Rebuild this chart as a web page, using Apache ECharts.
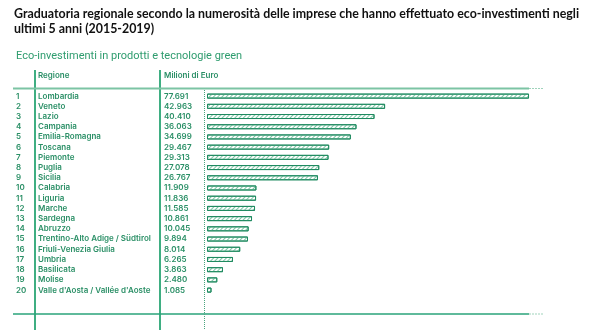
<!DOCTYPE html>
<html><head><meta charset="utf-8">
<script src="https://cdn.jsdelivr.net/npm/echarts@6/dist/echarts.min.js"></script>
<style>html,body{margin:0;padding:0;background:#fff}#c{width:600px;height:330px}</style>
</head><body><div id="c"></div>
<script>
const titleText = 'Graduatoria regionale secondo la numerosità delle imprese che hanno effettuato eco-investimenti negli\nultimi 5 anni (2015-2019)';
const subtitleText = 'Eco-investimenti in prodotti e tecnologie green';
const headerRegion = 'Regione';
const headerValue = 'Milioni di Euro';
const ranks = ['1','2','3','4','5','6','7','8','9','10','11','12','13','14','15','16','17','18','19','20'];
const regions = ['Lombardia','Veneto','Lazio','Campania','Emilia-Romagna','Toscana','Piemonte','Puglia','Sicilia','Calabria','Liguria','Marche','Sardegna','Abruzzo','Trentino-Alto Adige / Südtirol','Friuli-Venezia Giulia','Umbria','Basilicata','Molise',"Valle d'Aosta / Vallée d'Aoste"];
const values = [77.691,42.963,40.410,36.063,34.699,29.467,29.313,27.078,26.767,11.909,11.836,11.585,10.861,10.045,9.894,8.014,6.265,3.863,2.480,1.085];
const valueLabels = ['77.691','42.963','40.410','36.063','34.699','29.467','29.313','27.078','26.767','11.909','11.836','11.585','10.861','10.045','9.894','8.014','6.265','3.863','2.480','1.085'];

const G = '#2a8f66';
const LINE = '#3fae82';
const gridLeft = 207, gridTop = 91, gridH = 204.2;
const xMax = 80, pxPerUnit = 4.145;
const gridW = xMax * pxPerUnit;

function catAxis(data, margin) {
  return {
    type: 'category', data: data, inverse: true, position: 'left',
    axisLine: {show: false}, axisTick: {show: false}, splitLine: {show: false},
    axisLabel: {show: true, interval: 0, margin: margin, align: 'left', color: G, fontFamily: 'Inter', fontWeight: 600, fontSize: 8}
  };
}

const chart = echarts.init(document.getElementById('c'), null, {renderer: 'canvas'});
chart.setOption({
  animation: false,
  backgroundColor: '#fff',
  title: [
    {text: titleText, left: 9, top: 1, textStyle: {fontFamily: 'Lato', fontWeight: 'bold', fontSize: 12.4, color: '#111', lineHeight: 15}},
    {text: subtitleText, left: 11, top: 46, textStyle: {fontFamily: 'Roboto', fontWeight: 'normal', fontSize: 11, color: '#2e9c6e'}}
  ],
  grid: {left: gridLeft, top: gridTop, width: gridW, height: gridH, containLabel: false},
  xAxis: {type: 'value', min: 0, max: xMax, show: false},
  yAxis: [
    catAxis(ranks, gridLeft - 16),
    catAxis(regions, gridLeft - 38),
    catAxis(valueLabels, gridLeft - 164)
  ],
  graphic: [
    {type: 'line', shape: {x1: 35, y1: 70, x2: 35, y2: 330}, style: {stroke: LINE, lineWidth: 2}},
    {type: 'line', shape: {x1: 160, y1: 70, x2: 160, y2: 330}, style: {stroke: LINE, lineWidth: 2}},
    {type: 'line', shape: {x1: 13, y1: 88.5, x2: 529, y2: 88.5}, style: {stroke: '#7cc4a4', lineWidth: 2}},
    {type: 'line', shape: {x1: 529, y1: 88.5, x2: 544, y2: 88.5}, style: {stroke: '#9fd3bb', lineWidth: 1, lineDash: [2, 1]}},
    {type: 'line', shape: {x1: 13, y1: 314, x2: 529, y2: 314}, style: {stroke: '#2aa37a', lineWidth: 1.5}},
    {type: 'line', shape: {x1: 529, y1: 314, x2: 544, y2: 314}, style: {stroke: '#9fd3bb', lineWidth: 1, lineDash: [2, 1]}},
    {type: 'line', shape: {x1: 204.5, y1: 90, x2: 204.5, y2: 330}, style: {stroke: '#4aa57e', lineWidth: 1, lineDash: [1, 1]}},
    {type: 'text', left: 38, top: 72, style: {text: headerRegion, fill: G, font: '600 8px Inter'}},
    {type: 'text', left: 164, top: 72, style: {text: headerValue, fill: G, font: '600 8px Inter'}}
  ],
  series: [{
    type: 'bar', yAxisIndex: 0, data: values, barWidth: 5,
    itemStyle: {
      color: '#ffffff', borderColor: '#1f8a60', borderWidth: 1,
      decal: {symbol: 'rect', color: '#7cc4a4', dashArrayX: [1, 0], dashArrayY: [1, 2], rotation: -Math.PI / 4, symbolSize: 1}
    },
    silent: true
  }]
});
</script></body></html>
